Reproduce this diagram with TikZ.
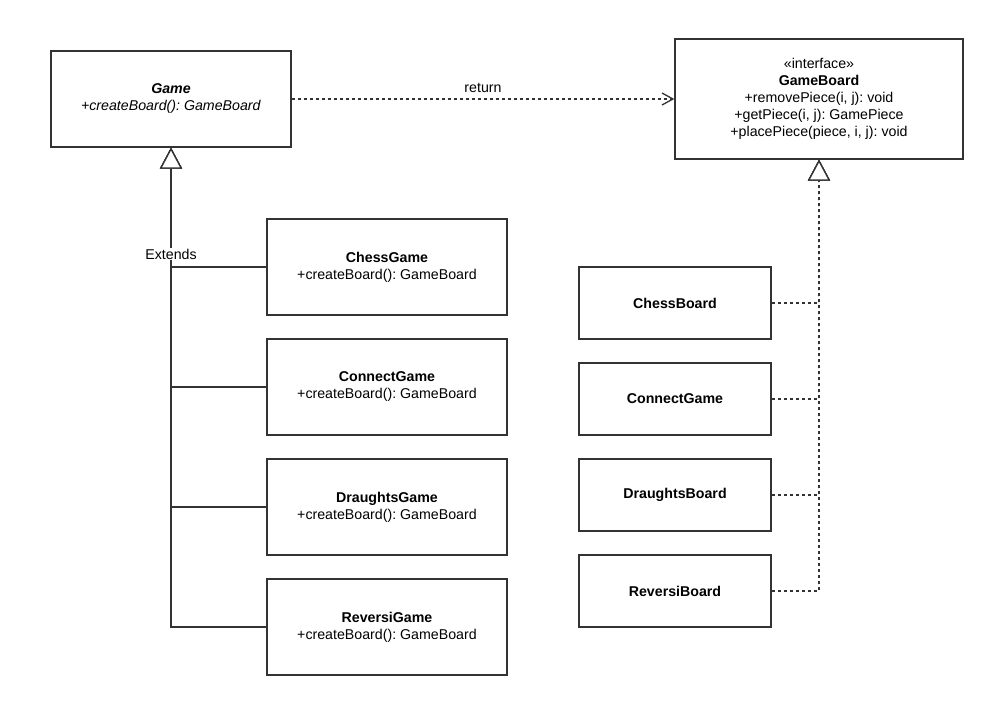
\documentclass[tikz,border=0pt]{standalone}
\usepackage{fontspec}
\setmainfont{Liberation Sans}
\usetikzlibrary{arrows.meta}
\definecolor{linec}{HTML}{333333}
\frenchspacing
\begin{document}
\begin{tikzpicture}[x=1pt,y=-1pt,
  txt/.style={font=\fontsize{14.2}{17}\selectfont\frenchspacing, text=black},
  box/.style={draw=linec, line width=1.3pt, fill=white, inner sep=0pt, align=center, txt},
  gamebox/.style={box, minimum width=240pt, minimum height=96pt},
  boardbox/.style={box, minimum width=192pt, minimum height=72pt},
  gen/.style={draw=linec, line width=1.3pt, -{Triangle[open, width=22pt, length=21pt, fill=white]}},
  real/.style={gen, dash pattern=on 3pt off 3pt},
  dep/.style={draw=linec, line width=1.3pt, dash pattern=on 3pt off 3pt, -{Straight Barb[length=11pt, width=12pt]}},
  lbl/.style={txt, fill=white, inner sep=1pt}
]
\useasboundingbox (0,0) rectangle (1007,728);
\fill[white] (0,0) rectangle (1007,728);

\node[gamebox] (game) at (171,99) {\textbf{\textit{Game}}\\\textit{+createBoard(): GameBoard}};
\node[box, minimum width=288pt, minimum height=120pt] (gb) at (819,99)
  {«interface»\\\textbf{GameBoard}\\+removePiece(i, j): void\\+getPiece(i, j): GamePiece\\+placePiece(piece, i, j): void};

\node[gamebox] (chess) at (387,267) {\textbf{ChessGame}\\+createBoard(): GameBoard};
\node[gamebox] (connect) at (387,387) {\textbf{ConnectGame}\\+createBoard(): GameBoard};
\node[gamebox] (draughts) at (387,507) {\textbf{DraughtsGame}\\+createBoard(): GameBoard};
\node[gamebox] (reversi) at (387,627) {\textbf{ReversiGame}\\+createBoard(): GameBoard};

\node[boardbox] (chessb) at (675,303) {\textbf{ChessBoard}};
\node[boardbox] (connectb) at (675,399) {\textbf{ConnectGame}};
\node[boardbox] (draughtsb) at (675,495) {\textbf{DraughtsBoard}};
\node[boardbox] (reversib) at (675,591) {\textbf{ReversiBoard}};

\draw[gen] (reversi.west) -| (game.south);
\draw[gen] (draughts.west) -| (game.south);
\draw[gen] (connect.west) -| (game.south);
\draw[gen] (chess.west) -| node[lbl, pos=0.554] {Extends} (game.south);

\draw[real] (reversib.east) -| (gb.south);
\draw[real] (draughtsb.east) -| (gb.south);
\draw[real] (connectb.east) -| (gb.south);
\draw[real] (chessb.east) -| (gb.south);

\draw[dep] (game.east) -- node[txt, midway, yshift=11pt] {return} (gb.west);
\end{tikzpicture}
\end{document}
